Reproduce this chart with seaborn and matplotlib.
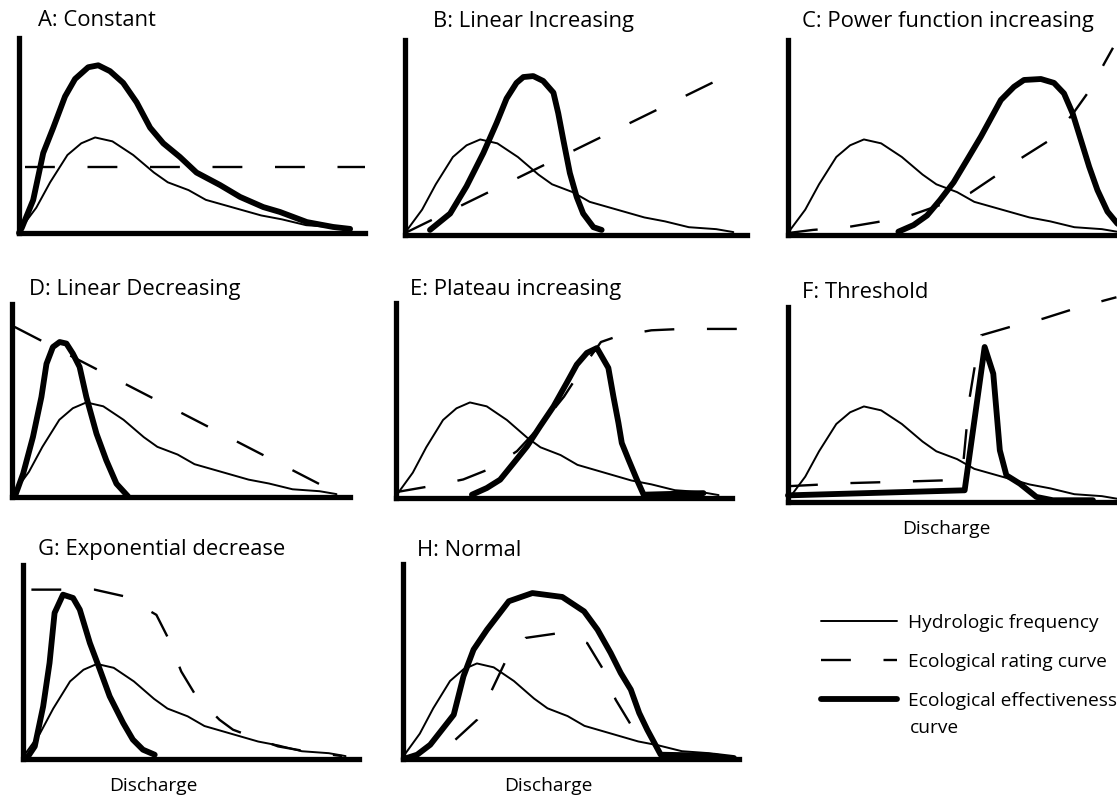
import matplotlib
matplotlib.use("Agg")
import matplotlib.pyplot as plt
from matplotlib.lines import Line2D
import seaborn as sns

# all curves are sketched in axis units: x 0..1 along the discharge axis, y 0..1 up the y-axis
# hydrologic frequency (same sketch reused in every panel)
hydro_x = [0, 0.008, 0.05, 0.09, 0.14, 0.18, 0.22, 0.27, 0.33, 0.37, 0.39, 0.43, 0.49,
           0.54, 0.62, 0.70, 0.76, 0.83, 0.91, 0.96]
hydro_y = [0, 0.03, 0.13, 0.26, 0.40, 0.46, 0.49, 0.47, 0.40, 0.34, 0.31, 0.26, 0.22,
           0.17, 0.13, 0.09, 0.07, 0.04, 0.03, 0.015]

# A: Constant
a_eff_x = [0, 0.008, 0.041, 0.07, 0.099, 0.133, 0.162, 0.20, 0.229, 0.263, 0.301, 0.34,
           0.379, 0.417, 0.465, 0.513, 0.581, 0.639, 0.706, 0.754, 0.832, 0.908, 0.957]
a_eff_y = [0, 0.026, 0.169, 0.41, 0.54, 0.70, 0.79, 0.85, 0.86, 0.83, 0.77, 0.67,
           0.54, 0.46, 0.39, 0.31, 0.246, 0.185, 0.133, 0.108, 0.056, 0.031, 0.021]
a_rate_x = [0.017, 1.0]
a_rate_y = [0.34, 0.34]

# B: Linear Increasing
b_eff_x = [0.073, 0.132, 0.18, 0.229, 0.268, 0.297, 0.326, 0.346, 0.375, 0.404, 0.434,
           0.448, 0.463, 0.482, 0.502, 0.521, 0.551, 0.575]
b_eff_y = [0.026, 0.11, 0.25, 0.42, 0.575, 0.70, 0.78, 0.81, 0.815, 0.79, 0.73,
           0.625, 0.487, 0.318, 0.195, 0.11, 0.04, 0.026]
b_rate_x = [0, 0.915]
b_rate_y = [0.01, 0.795]

# C: Power function increasing
c_eff_x = [0.32, 0.364, 0.403, 0.441, 0.48, 0.519, 0.559, 0.588, 0.617, 0.655, 0.684,
           0.733, 0.771, 0.80, 0.825, 0.849, 0.873, 0.897, 0.926, 0.954, 0.98]
c_eff_y = [0.017, 0.051, 0.10, 0.18, 0.27, 0.385, 0.504, 0.598, 0.692, 0.76, 0.795,
           0.80, 0.78, 0.726, 0.624, 0.487, 0.35, 0.23, 0.12, 0.06, 0.02]
c_rate_x = [0, 0.072, 0.174, 0.261, 0.354, 0.441, 0.528, 0.606, 0.681, 0.759, 0.823,
            0.875, 0.919, 0.942]
c_rate_y = [0.01, 0.026, 0.041, 0.067, 0.10, 0.154, 0.215, 0.308, 0.40, 0.487, 0.615,
            0.744, 0.887, 0.96]

# D: Linear Decreasing
d_eff_x = [0.008, 0.033, 0.062, 0.087, 0.102, 0.121, 0.141, 0.161, 0.18, 0.20, 0.22,
           0.25, 0.279, 0.309, 0.343]
d_eff_y = [0, 0.121, 0.311, 0.518, 0.69, 0.777, 0.803, 0.795, 0.743, 0.674, 0.518,
           0.328, 0.19, 0.069, 0.004]
d_rate_x = [0.008, 0.935]
d_rate_y = [0.881, 0.044]

# E: Plateau increasing
e_eff_x = [0.226, 0.27, 0.31, 0.35, 0.39, 0.429, 0.469, 0.508, 0.538, 0.568, 0.598,
           0.632, 0.647, 0.662, 0.672, 0.692, 0.717, 0.737, 0.80, 0.915]
e_eff_y = [0.017, 0.051, 0.094, 0.179, 0.265, 0.368, 0.47, 0.59, 0.684, 0.744, 0.769,
           0.667, 0.521, 0.385, 0.282, 0.197, 0.094, 0.017, 0.02, 0.025]
e_rate_x = [0, 0.1, 0.2, 0.28, 0.36, 0.43, 0.5, 0.56, 0.61, 0.66, 0.76, 0.85, 1.02]
e_rate_y = [0.03, 0.06, 0.095, 0.15, 0.24, 0.37, 0.52, 0.68, 0.80, 0.83, 0.86, 0.867, 0.867]

# F: Threshold
f_eff_x = [0, 0.512, 0.570, 0.595, 0.614, 0.633, 0.672, 0.72, 0.768, 0.884]
f_eff_y = [0.034, 0.06, 0.795, 0.658, 0.265, 0.137, 0.094, 0.026, 0.009, 0.009]
f_rate_x = [0, 0.179, 0.362, 0.454, 0.507, 0.517, 0.526, 0.541, 0.56, 0.642, 0.739,
            0.821, 0.918, 0.952]
f_rate_y = [0.081, 0.097, 0.106, 0.111, 0.179, 0.367, 0.53, 0.692, 0.855, 0.897, 0.94,
            0.986, 1.034, 1.05]

# G: Exponential decrease
g_eff_x = [0.01, 0.035, 0.06, 0.079, 0.094, 0.119, 0.149, 0.169, 0.199, 0.229, 0.258,
           0.298, 0.327, 0.357, 0.392]
g_eff_y = [0, 0.065, 0.271, 0.495, 0.753, 0.847, 0.83, 0.77, 0.598, 0.46, 0.323,
           0.186, 0.1, 0.048, 0.022]
g_rate_x = [0.025, 0.119, 0.213, 0.303, 0.397, 0.432, 0.471, 0.516, 0.585, 0.625,
            0.759, 0.844, 0.95]
g_rate_y = [0.873, 0.873, 0.873, 0.838, 0.743, 0.623, 0.451, 0.322, 0.202, 0.151,
            0.065, 0.039, 0.015]

# H: Normal
h_eff_x = [0.002, 0.042, 0.081, 0.116, 0.151, 0.18, 0.21, 0.25, 0.315, 0.385, 0.474,
           0.539, 0.579, 0.618, 0.648, 0.678, 0.703, 0.727, 0.767, 0.926, 0.985]
h_eff_y = [0, 0.022, 0.073, 0.15, 0.227, 0.424, 0.561, 0.663, 0.809, 0.851, 0.831,
           0.757, 0.663, 0.544, 0.441, 0.356, 0.236, 0.15, 0.022, 0.017, 0.005]
h_rate_x = [0.156, 0.221, 0.265, 0.305, 0.365, 0.454, 0.548, 0.593, 0.633, 0.678]
h_rate_y = [0.099, 0.202, 0.356, 0.501, 0.621, 0.643, 0.595, 0.467, 0.304, 0.176]

titles = ["A: Constant", "B: Linear Increasing", "C: Power function increasing",
          "D: Linear Decreasing", "E: Plateau increasing", "F: Threshold",
          "G: Exponential decrease", "H: Normal"]
eff_curves = [(a_eff_x, a_eff_y), (b_eff_x, b_eff_y), (c_eff_x, c_eff_y), (d_eff_x, d_eff_y),
              (e_eff_x, e_eff_y), (f_eff_x, f_eff_y), (g_eff_x, g_eff_y), (h_eff_x, h_eff_y)]
rate_curves = [(a_rate_x, a_rate_y), (b_rate_x, b_rate_y), (c_rate_x, c_rate_y),
               (d_rate_x, d_rate_y), (e_rate_x, e_rate_y), (f_rate_x, f_rate_y),
               (g_rate_x, g_rate_y), (h_rate_x, h_rate_y)]
legend_labels = ["Hydrologic frequency", "Ecological rating curve", "Ecological effectiveness"]

# layout in pixels: (left, bottom, width, height) of each panel, title anchor
W, H = 1117, 798
rects = [(19, 233, 346, 195), (405, 235, 342, 195), (788, 235, 345, 195),
         (12, 497, 338, 193), (396, 498, 336, 195), (788, 502, 345, 195),
         (23, 759, 336, 194), (403, 759, 336, 195)]
title_pos = [(38, 20), (433, 22), (802, 21), (29, 290), (410, 290), (802, 292),
             (38, 549), (417, 550)]
discharge_pos = [(946, 529), (153, 786), (548, 786)]

sns.set_theme(style="white")
plt.rcParams['font.family'] = ['Open Sans', 'DejaVu Sans']
plt.rcParams['text.color'] = 'black'
plt.rcParams['lines.scale_dashes'] = False

THIN, DASH, THICK, AXW = 1.4, 1.7, 4.2, 3.8
DASHES = (0, (21.5, 23.5))

fig = plt.figure(figsize=(W / 100, H / 100), dpi=100)

for i, (l, b, w, h) in enumerate(rects):
    ax = fig.add_axes([l / W, (H - b) / H, w / W, h / H])
    ax.set_facecolor('none')
    sns.lineplot(x=hydro_x, y=hydro_y, ax=ax, sort=False, estimator=None,
                 color='black', lw=THIN, clip_on=False)
    rx, ry = rate_curves[i]
    sns.lineplot(x=rx, y=ry, ax=ax, sort=False, estimator=None,
                 color='black', lw=DASH, ls=DASHES, clip_on=False)
    ex, ey = eff_curves[i]
    sns.lineplot(x=ex, y=ey, ax=ax, sort=False, estimator=None,
                 color='black', lw=THICK, clip_on=False)
    ax.set_xlim(0, 1)
    ax.set_ylim(0, 1)
    ax.set_xticks([])
    ax.set_yticks([])
    ax.set_xlabel('')
    ax.set_ylabel('')
    for side in ['top', 'right']:
        ax.spines[side].set_visible(False)
    for side in ['left', 'bottom']:
        ax.spines[side].set_linewidth(AXW)
        ax.spines[side].set_color('black')
        ax.spines[side].set_capstyle('projecting')
    tx, ty = title_pos[i]
    fig.text(tx / W, 1 - ty / H, titles[i], fontsize=15.8, ha='left', va='center',
             color='black')

for dx, dy in discharge_pos:
    fig.text(dx / W, 1 - dy / H, "Discharge", fontsize=13.8, ha='center', va='center',
             color='black')

handles = [Line2D([], [], color='black', lw=THIN),
           Line2D([], [], color='black', lw=DASH, ls=DASHES),
           Line2D([], [], color='black', lw=THICK)]
fig.legend(handles, legend_labels, loc='upper left',
           bbox_to_anchor=(821 / W, 1 - 614 / H), frameon=False, fontsize=13.8,
           handlelength=3.95, handletextpad=0.6, labelspacing=1.1,
           borderpad=0, borderaxespad=0, labelcolor='black')
fig.text(910 / W, 1 - 728 / H, "curve", fontsize=13.8, ha='left', va='center',
         color='black')

fig.savefig('out.png', dpi=100)
